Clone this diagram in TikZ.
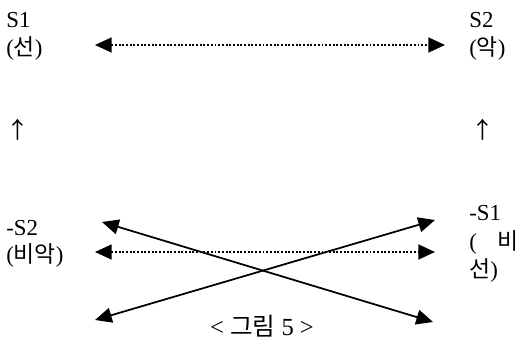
\documentclass[tikz,border=0pt]{standalone}
\usepackage{fontspec}
\setmainfont{Liberation Serif}
\newfontfamily\kr{Noto Sans CJK KR}
\usetikzlibrary{arrows.meta,positioning}

\begin{document}
\begin{tikzpicture}[>={Triangle[length=9.5pt,width=8.5pt]}, every node/.style={font=\fontsize{13}{15}\selectfont, inner sep=0pt},
    lbl/.style={anchor=west}, dotarrow/.style={<->, densely dotted, line width=1.1pt}, solarrow/.style={<->, line width=1pt}]
    \useasboundingbox (0,0) rectangle (10.34,6.78);

    % Top pair
    \node[lbl] (s1) at (0.12,6.38) {S1};
    \node[lbl] (s1k) at (0.12,5.82) {({\kr 선})};
    \node[lbl] (s2) at (9.38,6.38) {S2};
    \node[lbl] (s2k) at (9.38,5.82) {({\kr 악})};

    % Up marks
    \node (upl) at (0.36,4.18) {\kr ↑};
    \node (upr) at (9.66,4.18) {\kr ↑};

    % Bottom pair
    \node[lbl] (ns2) at (0.12,2.22) {-S2};
    \node[lbl] (ns2k) at (0.12,1.68) {({\kr 비악})};
    \node[lbl] (ns1) at (9.38,2.52) {-S1};
    \node[lbl] (ns1k) at (9.38,1.94) {(\hspace{0.9em}{\kr 비}};
    \node[lbl] (ns1j) at (9.38,1.38) {{\kr 선})};

    % Arrow ends
    \coordinate (tl) at (1.9,5.88);
    \coordinate (tr) at (8.9,5.88);
    \coordinate (ml) at (1.9,1.74);
    \coordinate (mr) at (8.7,1.74);
    \coordinate (xa) at (2.04,2.34);
    \coordinate (xb) at (8.66,0.34);
    \coordinate (xc) at (1.9,0.38);
    \coordinate (xd) at (8.7,2.38);

    % Connectors
    \draw[dotarrow] (tl) -- (tr);
    \draw[dotarrow] (ml) -- (mr);
    \draw[solarrow] (xa) -- (xb);
    \draw[solarrow] (xc) -- (xd);

    % Caption
    \node (cap) at (5.24,0.26) {\fontsize{14}{16}\selectfont < {\kr 그림} 5 >};
\end{tikzpicture}
\end{document}
